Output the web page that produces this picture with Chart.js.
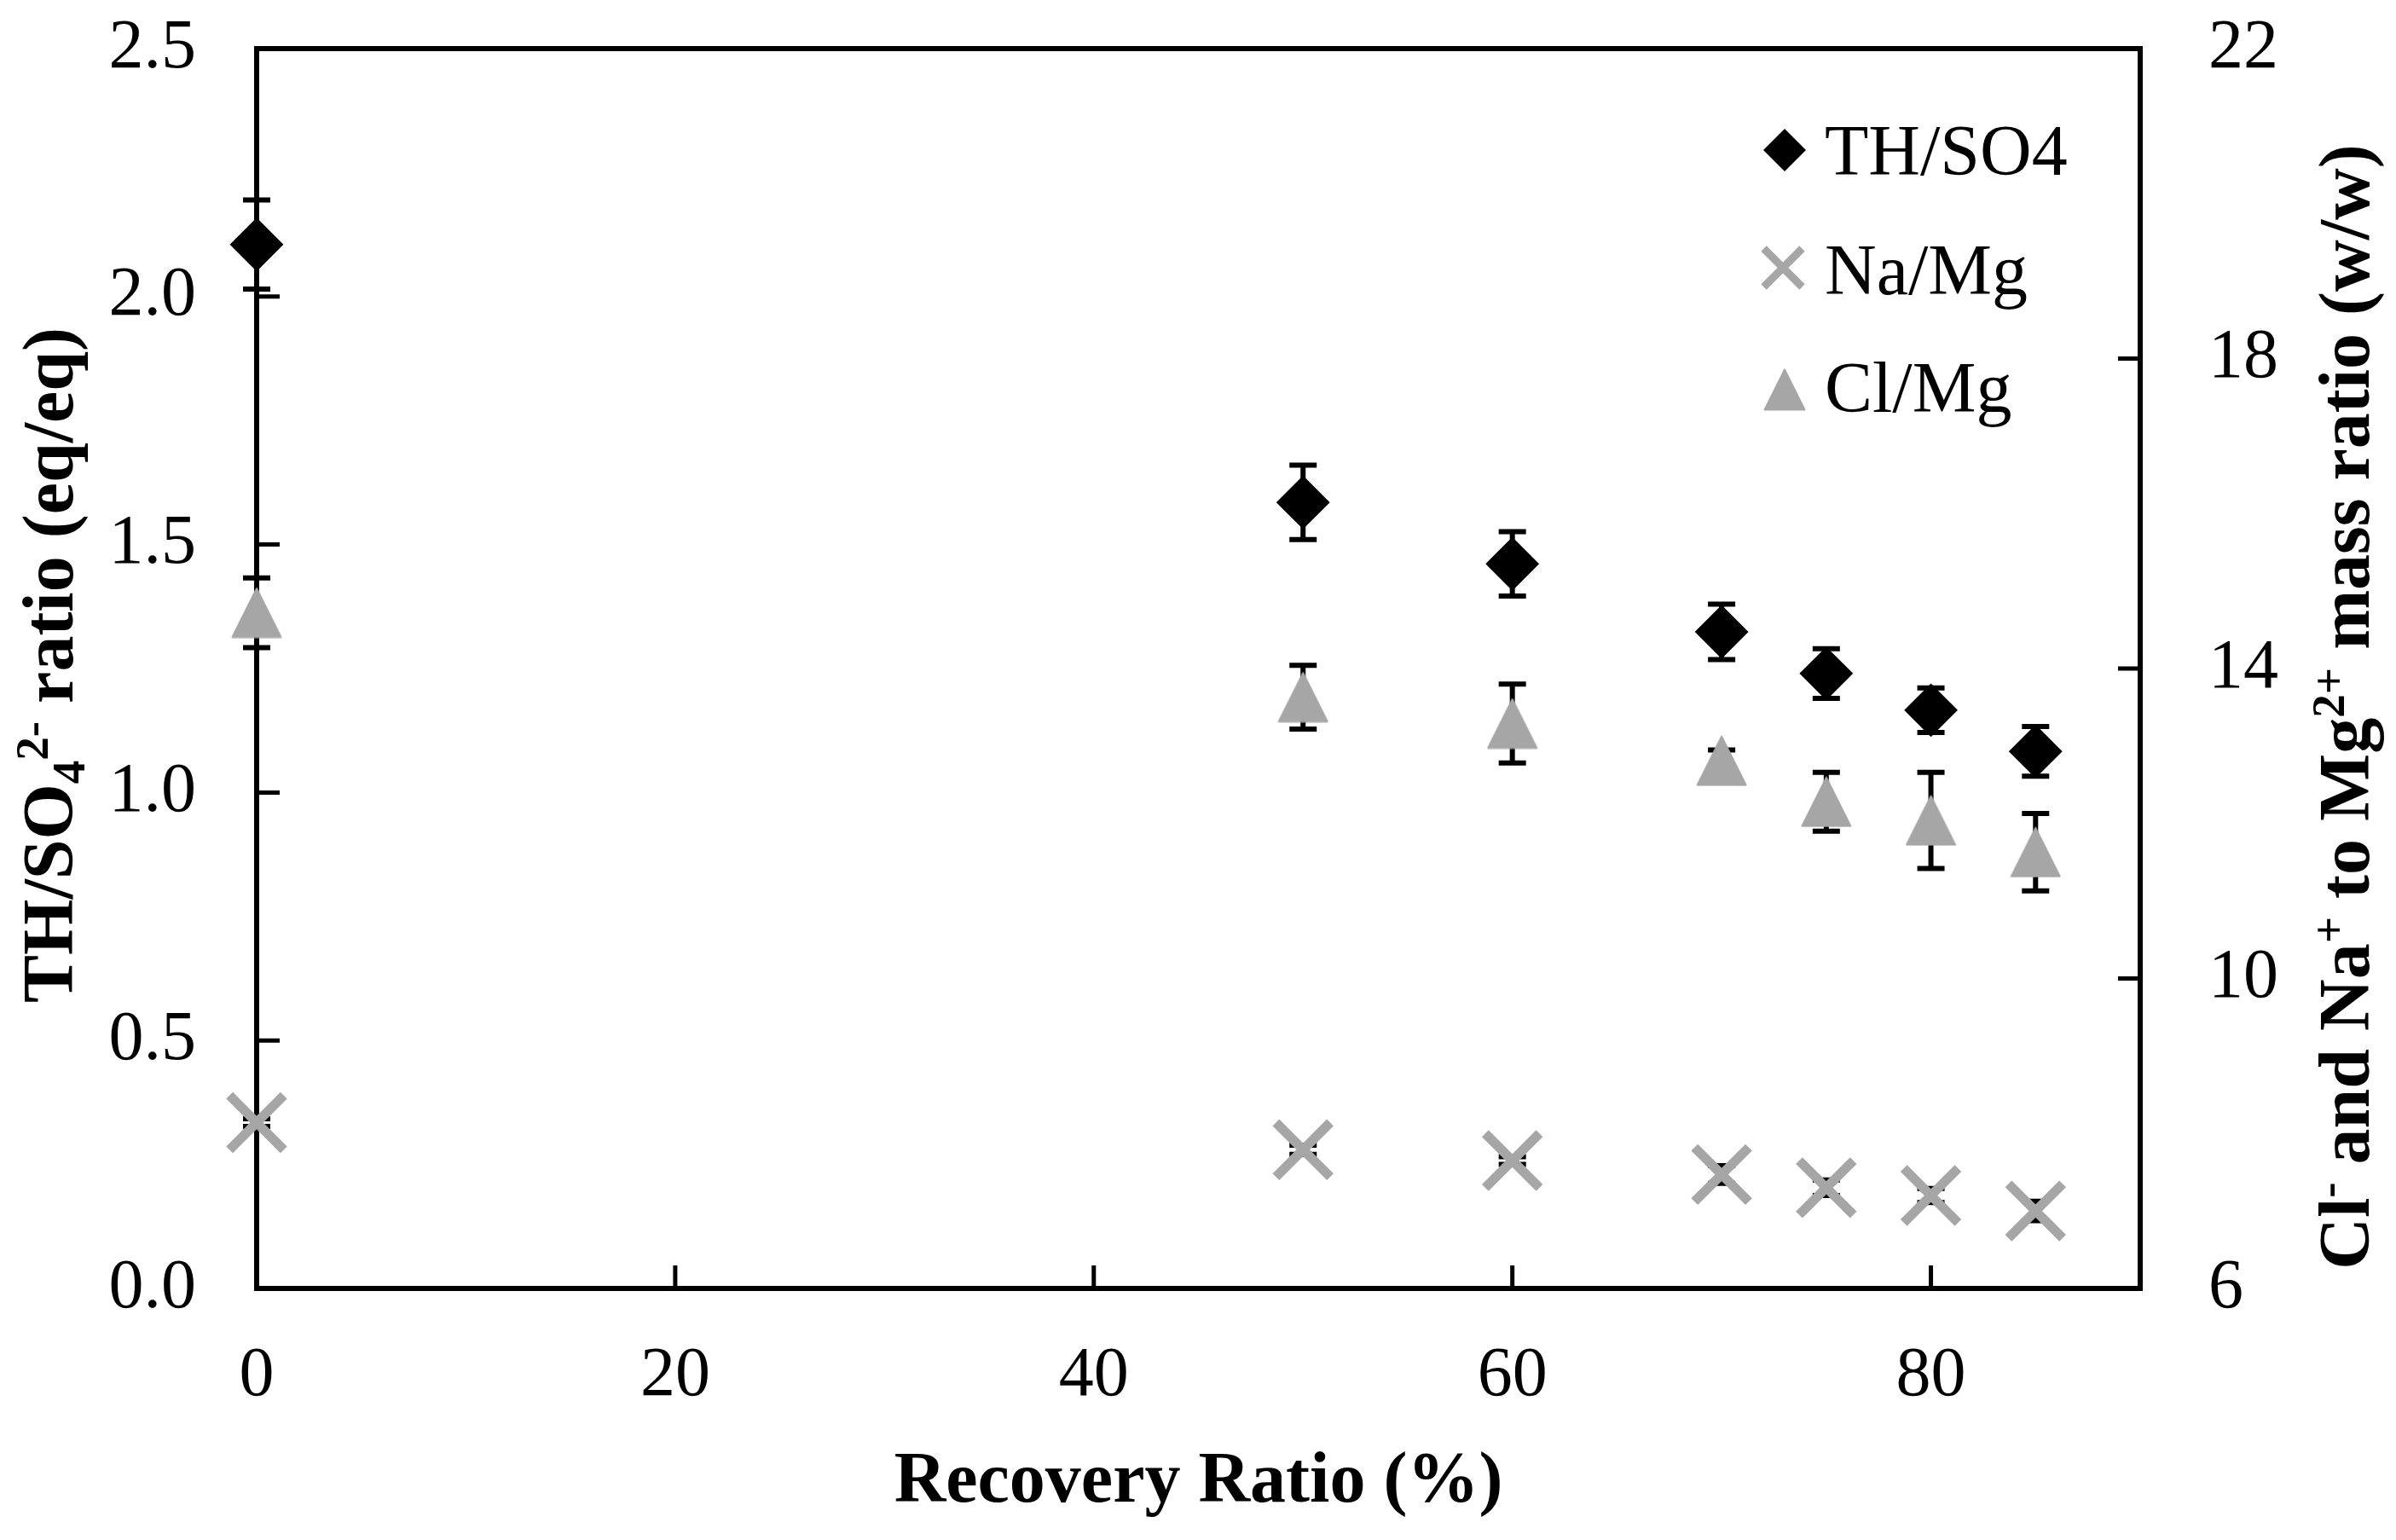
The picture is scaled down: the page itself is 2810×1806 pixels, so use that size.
<!DOCTYPE html>
<html>
<head>
<meta charset="utf-8">
<script src="https://cdn.jsdelivr.net/npm/chart.js@4.4.1/dist/chart.umd.min.js"></script>
<style>
html, body { margin: 0; padding: 0; background: #fff; }
#wrap { width: 2810px; height: 1806px; }
</style>
</head>
<body>
<div id="wrap"><canvas id="ratioChart" width="2810" height="1806"></canvas></div>
<script>
// values
const recovery = [0, 50, 60, 70, 75, 80, 85];
const thSo4 = [2.105, 1.585, 1.461, 1.324, 1.240, 1.166, 1.083];
const thSo4Err = [0.09, 0.075, 0.065, 0.056, 0.05, 0.045, 0.05];
const naMg = [8.14, 7.79, 7.65, 7.47, 7.30, 7.20, 7.00];
const naMgErr = [0.05, 0.06, 0.05, 0.115, 0.10, 0.09, 0.125];
const clMg = [14.72, 13.63, 13.29, 12.81, 12.28, 12.04, 11.63];
const clMgErr = [0.45, 0.41, 0.51, 0.14, 0.38, 0.62, 0.50];

const xTicks = [0, 20, 40, 60, 80];
const leftTicks = [0, 0.5, 1.0, 1.5, 2.0, 2.5];
const rightTicks = [6, 10, 14, 18, 22];
const legendLabels = ['TH/SO4', 'Na/Mg', 'Cl/Mg'];

const GRAY = '#A6A6A6';
const SERIF = '"Liberation Serif", "Times New Roman", serif';

// gray triangle marker (taller than chart.js' built in one)
function makeTriangle(size) {
    const c = document.createElement('canvas');
    c.width = size + 3;
    c.height = size + 3;
    const g = c.getContext('2d');
    g.fillStyle = GRAY;
    g.strokeStyle = GRAY;
    g.lineWidth = 2;
    g.lineJoin = 'round';
    g.beginPath();
    g.moveTo(c.width / 2, 1.5);
    g.lineTo(c.width - 1.5, c.height - 1.5);
    g.lineTo(1.5, c.height - 1.5);
    g.closePath();
    g.fill();
    g.stroke();
    return c;
}
const triMarker = makeTriangle(57);
const triLegend = makeTriangle(47);

function pts(ys) {
    return recovery.map((x, i) => ({ x: x, y: ys[i] }));
}

// frame, inward ticks and error bars (drawn under the markers)
const framePlugin = {
    id: 'frame',
    beforeDatasetsDraw(chart) {
        const { ctx, chartArea: a, scales } = chart;
        ctx.save();
        ctx.strokeStyle = '#000';
        ctx.lineWidth = 6;
        ctx.strokeRect(a.left, a.top, a.right - a.left, a.bottom - a.top);
        ctx.lineWidth = 5;
        ctx.beginPath();
        xTicks.forEach(v => {
            const px = scales.x.getPixelForValue(v);
            ctx.moveTo(px, a.bottom);
            ctx.lineTo(px, a.bottom - 27);
        });
        leftTicks.forEach(v => {
            const py = scales.y.getPixelForValue(v);
            ctx.moveTo(a.left, py);
            ctx.lineTo(a.left + 27, py);
        });
        rightTicks.forEach(v => {
            const py = scales.y2.getPixelForValue(v);
            ctx.moveTo(a.right, py);
            ctx.lineTo(a.right - 26, py);
        });
        ctx.stroke();

        const bars = [[thSo4, thSo4Err, scales.y], [naMg, naMgErr, scales.y2], [clMg, clMgErr, scales.y2]];
        ctx.lineWidth = 6;
        ctx.beginPath();
        bars.forEach(([vals, errs, sc]) => {
            vals.forEach((v, i) => {
                const px = scales.x.getPixelForValue(recovery[i]);
                const top = sc.getPixelForValue(v + errs[i]);
                const bot = sc.getPixelForValue(v - errs[i]);
                ctx.moveTo(px, top);
                ctx.lineTo(px, bot);
                ctx.moveTo(px - 16, top);
                ctx.lineTo(px + 16, top);
                ctx.moveTo(px - 16, bot);
                ctx.lineTo(px + 16, bot);
            });
        });
        ctx.stroke();
        ctx.restore();
    }
};

// rotated axis titles with sub/superscripts
function richText(ctx, parts, cx, cy, size) {
    ctx.save();
    ctx.translate(cx, cy);
    ctx.rotate(-Math.PI / 2);
    ctx.textBaseline = 'alphabetic';
    ctx.textAlign = 'left';
    ctx.fillStyle = '#000';
    const fontFor = p => 'bold ' + (p.sub || p.sup ? Math.round(size * 0.66) : size) + 'px ' + SERIF;
    let total = 0;
    parts.forEach(p => { ctx.font = fontFor(p); total += ctx.measureText(p.t).width; });
    let x = -total / 2;
    parts.forEach(p => {
        ctx.font = fontFor(p);
        let dy = 0;
        if (p.sub) dy = size * 0.17;
        if (p.sup) dy = -size * 0.35;
        ctx.fillText(p.t, x, dy);
        x += ctx.measureText(p.t).width;
    });
    ctx.restore();
}

const titlePlugin = {
    id: 'titles',
    afterDraw(chart) {
        const ctx = chart.ctx;
        richText(ctx, [
            { t: 'TH/SO' }, { t: '4', sub: true }, { t: '2-', sup: true }, { t: ' ratio (eq/eq)' }
        ], 85, 780, 84);
        richText(ctx, [
            { t: 'Cl' }, { t: '-', sup: true }, { t: ' and Na' }, { t: '+', sup: true },
            { t: ' to Mg' }, { t: '2+', sup: true }, { t: ' mass ratio (w/w)' }
        ], 2778, 829, 84);
    }
};

const legendPlugin = {
    id: 'keyBox',
    afterDraw(chart) {
        const ctx = chart.ctx;
        const rows = [176, 314, 457];
        const baselines = [205, 345, 483];
        ctx.save();
        // diamond
        ctx.fillStyle = '#000';
        ctx.beginPath();
        ctx.moveTo(2093 - 25, rows[0]);
        ctx.lineTo(2093, rows[0] - 25);
        ctx.lineTo(2093 + 25, rows[0]);
        ctx.lineTo(2093, rows[0] + 25);
        ctx.closePath();
        ctx.fill();
        // cross
        ctx.strokeStyle = GRAY;
        ctx.lineWidth = 9;
        ctx.beginPath();
        ctx.moveTo(2091 - 22.5, rows[1] - 22.5);
        ctx.lineTo(2091 + 22.5, rows[1] + 22.5);
        ctx.moveTo(2091 + 22.5, rows[1] - 22.5);
        ctx.lineTo(2091 - 22.5, rows[1] + 22.5);
        ctx.stroke();
        // triangle
        ctx.drawImage(triLegend, 2093 - triLegend.width / 2, rows[2] - triLegend.height / 2);

        ctx.fillStyle = '#000';
        ctx.font = '84px ' + SERIF;
        ctx.textBaseline = 'alphabetic';
        legendLabels.forEach((lab, i) => ctx.fillText(lab, 2140, baselines[i]));
        ctx.restore();
    }
};

// fixed box sizes so the plot area lands where the figure has it
function fixVertical(width) {
    return s => {
        s.width = width;
        s.paddingTop = 0;
        s.paddingBottom = 0;
    };
}

const ctx = document.getElementById('ratioChart').getContext('2d');
const ratioChart = new Chart(ctx, {
    type: 'scatter',
    data: {
        datasets: [{
            label: legendLabels[0],
            data: pts(thSo4),
            yAxisID: 'y',
            pointStyle: 'rectRot',
            pointRadius: 30,
            backgroundColor: '#000',
            borderColor: '#000',
            borderWidth: 2,
            clip: false
        }, {
            label: legendLabels[1],
            data: pts(naMg),
            yAxisID: 'y2',
            pointStyle: 'crossRot',
            pointRadius: 45,
            backgroundColor: GRAY,
            borderColor: GRAY,
            borderWidth: 11,
            clip: false
        }, {
            label: legendLabels[2],
            data: pts(clMg),
            yAxisID: 'y2',
            pointStyle: triMarker,
            pointRadius: 30,
            backgroundColor: GRAY,
            borderColor: GRAY,
            clip: false
        }]
    },
    options: {
        responsive: false,
        devicePixelRatio: 1,
        animation: false,
        events: [],
        layout: { padding: { top: 57, left: 0, right: 0, bottom: 0 } },
        plugins: {
            legend: { display: false },
            tooltip: { enabled: false }
        },
        scales: {
            x: {
                type: 'linear',
                position: 'bottom',
                min: 0,
                max: 90,
                afterBuildTicks: s => { s.ticks = xTicks.map(v => ({ value: v })); },
                afterFit: s => {
                    s.height = 295;
                    s.paddingLeft = 0;
                    s.paddingRight = 0;
                },
                grid: { display: false, drawTicks: false },
                border: { display: false },
                ticks: {
                    padding: 54,
                    color: '#000',
                    maxRotation: 0,
                    autoSkip: false,
                    font: { family: SERIF, size: 82 }
                },
                title: {
                    display: true,
                    text: 'Recovery Ratio (%)',
                    color: '#000',
                    padding: { top: 0, bottom: 16 },
                    font: { family: SERIF, size: 84, weight: 'bold' }
                }
            },
            y: {
                type: 'linear',
                position: 'left',
                min: 0,
                max: 2.5,
                afterBuildTicks: s => { s.ticks = leftTicks.map(v => ({ value: v })); },
                afterFit: fixVertical(301),
                grid: { display: false, drawTicks: false },
                border: { display: false },
                ticks: {
                    padding: 71,
                    color: '#000',
                    font: { family: SERIF, size: 82 },
                    callback: v => Number(v).toFixed(1)
                }
            },
            y2: {
                type: 'linear',
                position: 'right',
                min: 6,
                max: 22,
                afterBuildTicks: s => { s.ticks = rightTicks.map(v => ({ value: v })); },
                afterFit: fixVertical(300),
                grid: { display: false, drawTicks: false },
                border: { display: false },
                ticks: {
                    padding: 80,
                    color: '#000',
                    font: { family: SERIF, size: 82 }
                }
            }
        }
    },
    plugins: [framePlugin, titlePlugin, legendPlugin]
});
</script>
</body>
</html>
